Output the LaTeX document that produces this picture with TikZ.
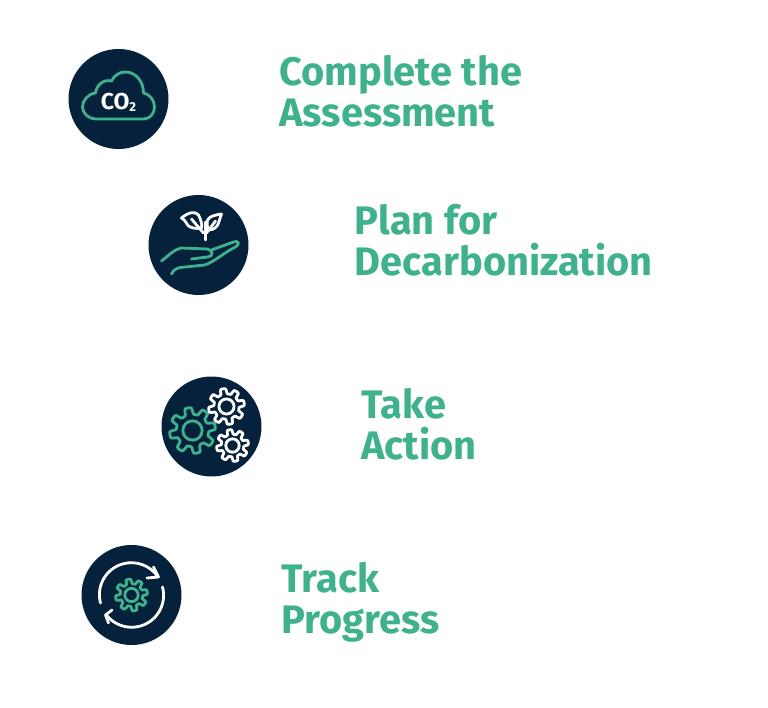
\documentclass[tikz,border=0pt]{standalone}
\usepackage{fontspec}
\setmainfont{Fira Sans}
\usetikzlibrary{positioning, arrows.meta}
\definecolor{navy}{HTML}{06213C}
\definecolor{leaf}{HTML}{3FB28D}
\tikzstyle{disc} = [circle, fill=navy, minimum size=100pt, inner sep=0pt]
\tikzstyle{title} = [anchor=west, align=left, inner sep=0pt, text=leaf, font=\fontsize{39.8}{41}\selectfont\bfseries]
\tikzstyle{glyph} = [line width=2.8pt, line cap=round, line join=round]
% gear outline: centre x, centre y, radius, colour
\newcommand{\gearline}[4]{
  \draw[glyph, #4] plot[domain=0:358, samples=160]
    ({#1+#3*(0.85-0.15*tanh(3*sin(8*\x)))*cos(\x)}, {#2+#3*(0.85-0.15*tanh(3*sin(8*\x)))*sin(\x)}) -- cycle;
  \draw[glyph, #4] (#1,#2) circle ({0.42*#3});
}
\begin{document}
\begin{tikzpicture}[x=1pt, y=-1pt]
    \useasboundingbox (0,0) rectangle (768,708);

    % Discs
    \node[disc] (C1) at (118.5,99) {};
    \node[disc] (C2) at (198.5,245) {};
    \node[disc] (C3) at (211.5,426.5) {};
    \node[disc] (C4) at (131.5,595) {};

    % Titles
    \node[title, right=110.5pt of C1.east, yshift=8pt] (T1) {Complete the\\Assessment};
    \node[title, right=106pt of C2.east, yshift=5pt] (T2) {Plan for\\Decarbonization};
    \node[title, right=99.5pt of C3.east, yshift=2pt] (T3) {Take\\Action};
    \node[title, right=99.5pt of C4.east, yshift=-7pt] (T4) {Track\\Progress};

    % Cloud
    \begin{scope}[shift={(C1.center)}]
      \draw[glyph, leaf] (-23,20) -- (25,20)
        .. controls (32,20) and (36,14) .. (36,8)
        .. controls (36,1) and (31,-5) .. (25,-6)
        .. controls (25,-18) and (17,-27) .. (7,-27)
        .. controls (1,-27) and (-4,-24) .. (-7,-18)
        .. controls (-15,-20) and (-22,-14) .. (-23,-6)
        .. controls (-31,-5) and (-36,2) .. (-36,8)
        .. controls (-36,14) and (-30,20) .. (-23,20) -- cycle;
      \node[text=white, inner sep=0pt, font=\fontsize{23}{23}\selectfont\bfseries] (CO) at (0,3) {CO\raisebox{-0.1em}{\fontsize{13}{13}\selectfont 2}};
    \end{scope}

    % Hand and plant
    \begin{scope}[shift={(C2.center)}]
      \draw[glyph, leaf] (-37,16) .. controls (-30,11) and (-26,5) .. (-17,3)
        -- (9,4) .. controls (15,5) and (15,12) .. (9,12) -- (-7,14);
      \draw[glyph, leaf] (-27,29) .. controls (-25,24) and (-20,22) .. (-13,22)
        -- (6,20) .. controls (16,17) and (26,7) .. (37,2)
        .. controls (42,-1) and (40,-5) .. (35,-3) -- (13,5);
      \draw[glyph, white] (7,-5) -- (7,-23);
      \draw[glyph, white] (-17,-27) .. controls (-10,-33) and (-3,-34) .. (0,-30)
        .. controls (2,-26) and (4,-21) .. (3,-17)
        .. controls (-3,-16) and (-7,-17) .. (-10,-19)
        .. controls (-12,-21) and (-13,-25) .. (-17,-27) -- cycle;
      \draw[glyph, white] (23,-31) .. controls (17,-30) and (11,-29) .. (9,-25)
        .. controls (8,-21) and (9,-18) .. (10,-15)
        .. controls (15,-15) and (19,-18) .. (20,-22)
        .. controls (21,-25) and (22,-28) .. (23,-31) -- cycle;
      \draw[glyph, white] (-7,-26) -- (5,-12);
      \draw[glyph, white] (17,-24) -- (8,-12);
    \end{scope}

    % Gears
    \begin{scope}[shift={(C3.center)}]
      \gearline{-19}{4}{23}{leaf}
      \gearline{15}{-20}{18}{white}
      \gearline{21}{19}{16}{white}
    \end{scope}

    % Refresh
    \begin{scope}[shift={(C4.center)}]
      \gearline{0}{0}{16}{leaf}
      \draw[glyph, white] (-31,8) arc[start angle=165, end angle=325, radius=32];
      \draw[glyph, white] (22,-28) -- (27,-18) -- (15.5,-17);
      \draw[glyph, white] (31,-8) arc[start angle=-15, end angle=141, radius=32];
      \draw[glyph, white] (-19.5,15) -- (-26,20) -- (-23,28);
    \end{scope}
\end{tikzpicture}
\end{document}
